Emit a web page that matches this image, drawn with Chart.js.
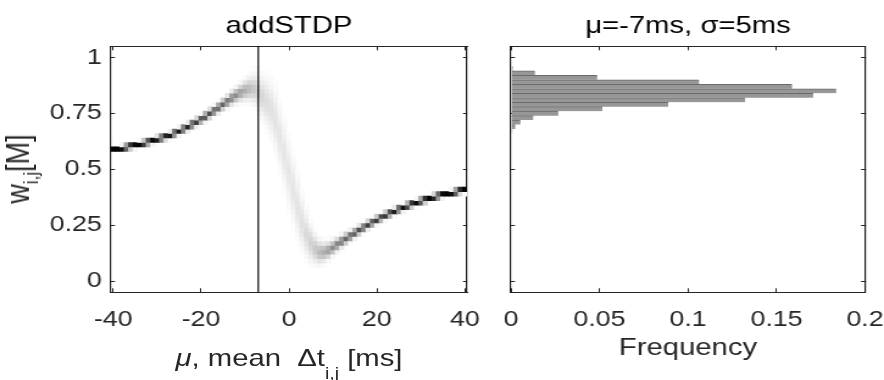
<!DOCTYPE html>
<html>
<head>
<meta charset="utf-8">
<title>addSTDP</title>
<script src="https://cdn.jsdelivr.net/npm/chart.js@4.4.1/dist/chart.umd.min.js"></script>
<style>
  html, body { margin: 0; padding: 0; background: #fff; }
  body { width: 884px; height: 380px; overflow: hidden; position: relative; }
  /* the figure is drawn 725px wide and stretched to 884px, like the reference */
  #stage { position: absolute; left: 0; top: 0; width: 725px; height: 380px; transform: scaleX(1.2193); transform-origin: 0 0; }
  canvas { position: absolute; top: 0; }
  .lab { position: absolute; font-family: "Liberation Sans", Arial, sans-serif; font-size: 24px; line-height: 24px; color: #262626; white-space: nowrap; }
  .lab .sub { position: relative; font-size: 16px; }
  #xLabel { left: 237px; top: 345.7px; transform: translateX(-50%); }
  #xLabel .sub { top: 13px; }
  #yLabel { left: 16.8px; top: 169px; font-size: 27px; line-height: 27px; transform: translate(-50%, -50%) rotate(-90deg); }
  #yLabel .sub { top: 7px; font-size: 17px; }
</style>
</head>
<body>
<div id="stage">
  <canvas id="leftChart" width="402" height="380" style="left:0;width:402px;height:380px"></canvas>
  <canvas id="rightChart" width="323" height="380" style="left:402px;width:323px;height:380px"></canvas>
  <div class="lab" id="xLabel"><i>μ</i>, mean&nbsp; Δt<span class="sub">i,j</span> [ms]</div>
  <div class="lab" id="yLabel">w<span class="sub">i,j</span>[M]</div>
</div>
<script>
// left panel: mean weight and its spread for each mean spike-time difference mu
const muVals = [];
for (let m = -40; m <= 40; m++) muVals.push(m);

const meanW = [
  0.589, 0.592, 0.595, 0.599, 0.603, 0.607, 0.612, 0.617, 0.622, 0.628,
  0.634, 0.640, 0.646, 0.652, 0.661, 0.670, 0.680, 0.690, 0.701, 0.712,
  0.724, 0.736, 0.749, 0.762, 0.776, 0.790, 0.804, 0.818, 0.831, 0.843,
  0.853, 0.860, 0.860, 0.848, 0.825, 0.800, 0.770, 0.720, 0.645, 0.570,
  0.490, 0.410, 0.335, 0.265, 0.210, 0.172, 0.145, 0.130, 0.130, 0.138,
  0.150, 0.165, 0.178, 0.190, 0.203, 0.216, 0.228, 0.240, 0.252, 0.263,
  0.274, 0.284, 0.294, 0.303, 0.312, 0.321, 0.329, 0.337, 0.344, 0.351,
  0.358, 0.364, 0.370, 0.376, 0.381, 0.386, 0.391, 0.395, 0.399, 0.403,
  0.407
];
const sdW = [
  0.003, 0.003, 0.003, 0.0035, 0.0035, 0.004, 0.004, 0.004, 0.0045, 0.0045,
  0.005, 0.005, 0.0055, 0.0055, 0.006, 0.006, 0.0065, 0.007, 0.0075, 0.008,
  0.0085, 0.009, 0.0095, 0.010, 0.011, 0.012, 0.013, 0.015, 0.017, 0.020,
  0.024, 0.029, 0.035, 0.042, 0.050, 0.060, 0.068, 0.075, 0.080, 0.082,
  0.082, 0.080, 0.075, 0.066, 0.055, 0.045, 0.036, 0.029, 0.024, 0.020,
  0.017, 0.015, 0.013, 0.012, 0.011, 0.010, 0.0095, 0.009, 0.0085, 0.008,
  0.0075, 0.007, 0.007, 0.0065, 0.006, 0.006, 0.0055, 0.0055, 0.005, 0.005,
  0.0045, 0.0045, 0.004, 0.004, 0.004, 0.0035, 0.0035, 0.003, 0.003, 0.003,
  0.003
];
const wBin = 0.02;
const muMark = -7;

// right panel: weight histogram at mu = -7 ms
const histW = [0.95, 0.93, 0.91, 0.89, 0.87, 0.85, 0.83, 0.81, 0.79, 0.77, 0.75, 0.73, 0.71, 0.69, 0.67];
const histFreq = [0.001, 0.0135, 0.0487, 0.1063, 0.1588, 0.1837, 0.1707, 0.1323, 0.0888, 0.0516, 0.0267, 0.0126, 0.0053, 0.0024, 0.0008];

const xTicksLeft = [-40, -20, 0, 20, 40];
const xTicksRight = [0, 0.05, 0.1, 0.15, 0.2];
const yTicks = [0, 0.25, 0.5, 0.75, 1];

const axisColor = '#262626';
const fontFamily = '"Liberation Sans", Arial, sans-serif';
const tickFont = { family: fontFamily, size: 22 };
const labelFont = { family: fontFamily, size: 24 };

function erf(x) {
  const s = Math.sign(x);
  x = Math.abs(x);
  const t = 1 / (1 + 0.3275911 * x);
  const y = 1 - (((((1.061405429 * t - 1.453152027) * t) + 1.421413741) * t - 0.284496736) * t + 0.254829592) * t * Math.exp(-x * x);
  return s * y;
}
const cdf = z => 0.5 * (1 + erf(z / Math.SQRT2));

// one floating bar per image cell, grey level = fraction of weights in the bin
const cells = [];
muVals.forEach((mu, i) => {
  for (let k = 0; k * wBin < 1; k++) {
    const lo = k * wBin, hi = lo + wBin;
    const p = cdf((hi - meanW[i]) / sdW[i]) - cdf((lo - meanW[i]) / sdW[i]);
    if (p < 0.008) continue;
    const g = Math.round(255 * (1 - Math.min(1, p)));
    cells.push({ x: mu, y: [lo, hi], color: `rgb(${g},${g},${g})` });
  }
});

function axis(position, min, max, tickValues, size, extra) {
  const horizontal = position === 'top' || position === 'bottom';
  return Object.assign({
    type: 'linear',
    position: position,
    min: min,
    max: max,
    offset: false,
    afterBuildTicks: s => { s.ticks = tickValues.map(v => ({ value: v })); },
    afterFit: s => {
      // fixed box sizes, no extra room for overhanging labels
      if (horizontal) s.height = size; else s.width = size;
      s.paddingLeft = 0; s.paddingRight = 0; s.paddingTop = 0; s.paddingBottom = 0;
    },
    grid: { drawOnChartArea: false, drawTicks: true, tickLength: horizontal ? -4 : -3.3, color: axisColor, lineWidth: 1, offset: false },
    // vertical frame lines get stretched, so draw them a bit heavier
    border: { display: true, color: horizontal ? axisColor : '#1a1a1a', width: horizontal ? 1 : 1.2 },
    ticks: { display: false }
  }, extra || {});
}

const xTickLabels = { display: true, font: tickFont, color: axisColor, padding: 18.3, maxRotation: 0, autoSkip: false, callback: v => String(v) };
const yTickLabels = { display: true, font: tickFont, color: axisColor, padding: 10.8, autoSkip: false, callback: v => String(v) };

const common = {
  responsive: false,
  animation: false,
  events: [],
  layout: { padding: 0 },
  plugins: { legend: { display: false }, tooltip: { enabled: false } }
};

new Chart(document.getElementById('leftChart'), {
  type: 'bar',
  data: {
    datasets: [
      {
        type: 'line',
        data: [{ x: muMark, y: -0.05 }, { x: muMark, y: 1.05 }],
        borderColor: '#000',
        borderWidth: 1.2,
        pointRadius: 0,
        order: 0
      },
      {
        type: 'bar',
        data: cells,
        backgroundColor: c => (c.raw ? c.raw.color : '#fff'),
        borderWidth: 0,
        barPercentage: 1,
        categoryPercentage: 1,
        order: 1
      }
    ]
  },
  options: Object.assign({}, common, {
    scales: {
      x: axis('bottom', -40.5, 40.5, xTicksLeft, 87.7, { ticks: xTickLabels }),
      x2: axis('top', -40.5, 40.5, xTicksLeft, 46.3, {
        title: { display: true, text: 'addSTDP', color: '#000', font: labelFont, padding: { top: 12.3, bottom: 0 } }
      }),
      y: axis('left', -0.05, 1.05, yTicks, 91.03, { ticks: yTickLabels }),
      y2: axis('right', -0.05, 1.05, yTicks, 19.0)
    }
  })
});

new Chart(document.getElementById('rightChart'), {
  type: 'bar',
  data: {
    datasets: [{
      data: histW.map((w, i) => ({ x: histFreq[i], y: w })),
      backgroundColor: '#979797',
      borderColor: '#6a6a6a',
      borderWidth: { top: 1, right: 0, bottom: 0, left: 0 },
      barPercentage: 1,
      categoryPercentage: 1
    }]
  },
  options: Object.assign({}, common, {
    indexAxis: 'y',
    scales: {
      x: axis('bottom', 0, 0.2, xTicksRight, 87.7, {
        ticks: xTickLabels,
        title: { display: true, text: 'Frequency', color: axisColor, font: labelFont, padding: { top: 0, bottom: 16.8 } }
      }),
      x2: axis('top', 0, 0.2, xTicksRight, 46.3, {
        title: { display: true, text: 'μ=-7ms, σ=5ms', color: '#000', font: labelFont, padding: { top: 12.3, bottom: 0 } }
      }),
      y: axis('left', -0.05, 1.05, yTicks, 17.09),
      y2: axis('right', -0.05, 1.05, yTicks, 15.58)
    }
  })
});
</script>
</body>
</html>
